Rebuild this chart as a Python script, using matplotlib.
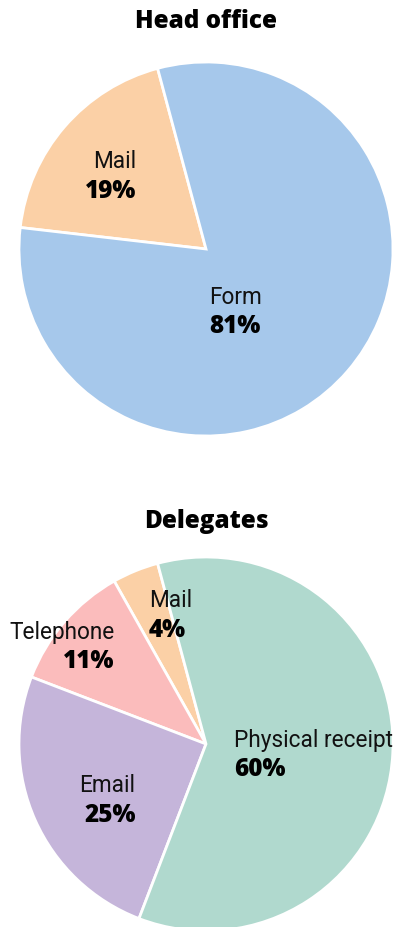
import matplotlib.pyplot as plt

# Head office
head_labels = ['Mail', 'Form']
head_values = [19, 81]
head_colors = ['#fbd0a6', '#a6c8eb']

# Delegates
del_labels = ['Mail', 'Telephone', 'Email', 'Physical receipt']
del_values = [4, 11, 25, 60]
del_colors = ['#fbd0a6', '#fbbcbc', '#c5b5da', '#b0d9ce']

NAME_FONT = 'Roboto'
PCT_FONT = 'Open Sans'

fig = plt.figure(figsize=(3.99, 9.27), dpi=100)


def draw_pie(rect, values, colors, title, title_y, label_pos):
    ax = fig.add_axes(rect)
    ax.pie(values, colors=colors, startangle=105, counterclock=True,
           radius=1, wedgeprops=dict(edgecolor='white', linewidth=2))
    ax.set_xlim(-1, 1)
    ax.set_ylim(-1, 1)
    ax.set_aspect('equal')
    ax.axis('off')
    for name, val, (nx, ny, px, py, ha) in label_pos:
        ax.text(nx, ny, name, ha=ha, va='center', fontsize=16.3,
                family=NAME_FONT, fontweight='normal', color='#111111')
        ax.text(px, py, f'{val}%', ha=ha, va='center', fontsize=17.5,
                family=PCT_FONT, fontweight='heavy', color='black')
    fig.text(206 / 399, 1 - title_y / 927, title, ha='center', va='center',
             fontsize=17.5, family=PCT_FONT, fontweight='heavy')
    return ax


# label positions in pie units (radius 1)
head_pos = [(-0.49, 0.47, -0.51, 0.31, 'center'),
            (0.16, -0.26, 0.155, -0.415, 'center')]
del_pos = [(-0.19, 0.77, -0.21, 0.605, 'center'),
           (-0.77, 0.595, -0.625, 0.44, 'center'),
           (-0.53, -0.22, -0.515, -0.38, 'center'),
           (0.15, 0.02, 0.15, -0.135, 'left')]

draw_pie([19 / 399, 1 - 436 / 927, 374 / 399, 374 / 927],
         head_values, head_colors, 'Head office', 22,
         list(zip(head_labels, head_values, head_pos)))
draw_pie([19 / 399, 1 - 931 / 927, 374 / 399, 374 / 927],
         del_values, del_colors, 'Delegates', 522,
         list(zip(del_labels, del_values, del_pos)))

plt.savefig('out.png', dpi=100)
